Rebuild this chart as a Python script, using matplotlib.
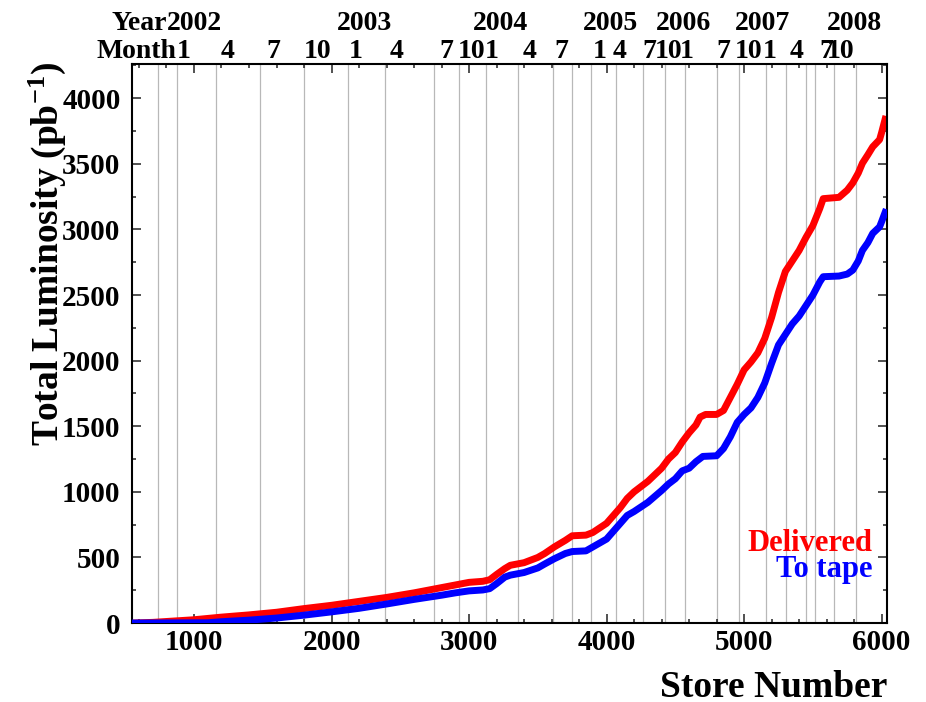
import matplotlib
matplotlib.use("Agg")
import matplotlib.pyplot as plt
from matplotlib.ticker import MultipleLocator

plt.rcParams['font.family'] = ['Liberation Serif', 'DejaVu Serif']
plt.rcParams['font.weight'] = 'bold'
plt.rcParams['mathtext.fontset'] = 'custom'
plt.rcParams['mathtext.rm'] = 'Liberation Serif:bold'
plt.rcParams['mathtext.bf'] = 'Liberation Serif:bold'
plt.rcParams['mathtext.default'] = 'bf'

# ---- data ----
red_store = [560, 700, 850, 1000, 1200, 1400, 1600, 1800, 2000, 2200, 2400, 2600, 2800, 2900,
             3000, 3100, 3150, 3200, 3260, 3300, 3400, 3500, 3550, 3620, 3700, 3750, 3850, 3900,
             4000, 4050, 4100, 4150, 4200, 4300, 4400, 4450, 4500, 4550, 4600, 4650, 4680, 4720,
             4800, 4850, 4900, 4950, 5000, 5050, 5100, 5150, 5200, 5250, 5300, 5350, 5400, 5450,
             5500, 5550, 5575, 5690, 5750, 5790, 5830, 5860, 5900, 5935, 5985, 6000, 6025]
red_lumi = [0, 5, 15, 25, 45, 62, 82, 110, 135, 165, 195, 230, 270, 290,
            310, 318, 330, 370, 415, 440, 460, 500, 530, 580, 630, 665, 670, 690,
            760, 820, 880, 950, 1000, 1080, 1180, 1250, 1300, 1380, 1450, 1510, 1570, 1590,
            1590, 1620, 1720, 1820, 1930, 1990, 2060, 2170, 2330, 2520, 2680, 2760, 2840, 2940,
            3030, 3160, 3235, 3245, 3300, 3355, 3430, 3505, 3570, 3630, 3685, 3740, 3840]

blue_store = [560, 1100, 1200, 1400, 1600, 1800, 2000, 2200, 2400, 2600, 2800, 2900, 3000, 3100,
              3150, 3200, 3260, 3300, 3400, 3500, 3550, 3620, 3700, 3750, 3850, 3900, 4000, 4050,
              4100, 4150, 4200, 4300, 4400, 4450, 4500, 4550, 4600, 4650, 4700, 4800, 4850, 4900,
              4950, 5000, 5050, 5100, 5150, 5200, 5250, 5300, 5350, 5400, 5450, 5500, 5550, 5575,
              5690, 5750, 5790, 5830, 5860, 5900, 5935, 5985, 6000, 6025]
blue_lumi = [0, 2, 10, 22, 38, 60, 85, 112, 145, 180, 212, 230, 245, 252,
             262, 300, 350, 365, 385, 420, 450, 490, 530, 545, 550, 580, 640, 700,
             760, 820, 850, 920, 1010, 1060, 1100, 1160, 1180, 1230, 1270, 1275, 1330, 1420,
             1530, 1590, 1640, 1720, 1830, 1980, 2120, 2200, 2280, 2340, 2420, 2500, 2600, 2640,
             2645, 2660, 2690, 2760, 2840, 2900, 2970, 3020, 3060, 3130]

grid_stores = [738, 874, 1160, 1479, 1799, 2123, 2391, 2747, 2925, 3122, 3354, 3609, 3747,
               3890, 4066, 4262, 4422, 4568, 4800, 4960, 5156, 5302, 5447, 5512, 5657, 5817]

month_stores = [874, 1196, 1523, 1799, 2126, 2424, 2787, 2918, 3114, 3390, 3623, 3899, 4045,
                4263, 4350, 4531, 4800, 4931, 5134, 5331, 5549, 5600]
month_labels = ['1', '4', '7', '10', '1', '4', '7', '10', '1', '4', '7', '1', '4',
                '7', '10', '1', '7', '10', '1', '4', '7', '10']

year_stores = [804, 2039, 3027, 3827, 4357, 4931, 5600]
year_labels = ['2002', '2003', '2004', '2005', '2006', '2007', '2008']

series_names = ['Delivered', 'To tape']
series_colors = ['#ff0000', '#0000ff']

# ---- figure ----
fig = plt.figure(figsize=(9.26, 7.02), dpi=100)
ax = fig.add_axes([0.1422, 0.1125, 0.816, 0.797])

for s in grid_stores:
    ax.axvline(s, color='#b8b8b8', lw=0.9, zorder=0)

ax.plot(blue_store, blue_lumi, color=series_colors[1], lw=5, solid_joinstyle='round', zorder=3)
ax.plot(red_store, red_lumi, color=series_colors[0], lw=5, solid_joinstyle='round', zorder=2)

ax.set_xlim(547, 6041)
ax.set_ylim(0, 4265)
ax.xaxis.set_major_locator(MultipleLocator(1000))
ax.xaxis.set_minor_locator(MultipleLocator(200))
ax.yaxis.set_major_locator(MultipleLocator(500))
ax.yaxis.set_minor_locator(MultipleLocator(250))
ax.tick_params(which='both', direction='in', top=True, right=True, width=1.1, color='#222222')
ax.tick_params(which='major', length=6.5)
ax.tick_params(which='minor', length=3.2)
ax.tick_params(axis='x', which='major', labelsize=21, pad=4)
ax.tick_params(axis='y', which='major', labelsize=21, pad=8)
for lab in ax.get_xticklabels() + ax.get_yticklabels():
    lab.set_fontweight('bold')
for sp in ax.spines.values():
    sp.set_linewidth(1.5)

tr = ax.get_xaxis_transform()
for s, t in zip(month_stores, month_labels):
    ax.text(s, 1.0098, t, transform=tr, ha='left', va='baseline', fontsize=20, fontweight='bold')
ax.text(month_stores[0], 1.0098, 'Month', transform=tr, ha='right', va='baseline', fontsize=20, fontweight='bold')
for s, t in zip(year_stores, year_labels):
    ax.text(s, 1.0599, t, transform=tr, ha='left', va='baseline', fontsize=20, fontweight='bold')
ax.text(year_stores[0], 1.0599, 'Year', transform=tr, ha='right', va='baseline', fontsize=20, fontweight='bold')

ax.text(0.9798, 0.1287, series_names[0], transform=ax.transAxes, ha='right', va='baseline',
        fontsize=22, fontweight='bold', color=series_colors[0])
ax.text(0.9798, 0.0822, series_names[1], transform=ax.transAxes, ha='right', va='baseline',
        fontsize=22, fontweight='bold', color=series_colors[1])

fig.text(0.0508, 0.9117, r'Total Luminosity (pb$^{\mathbf{-1}}$)', rotation=90, ha='center', va='top',
         fontsize=27, fontweight='bold')
fig.text(0.958, 0.0071, 'Store Number', ha='right', va='baseline', fontsize=27, fontweight='bold')

fig.savefig('out.png', dpi=100)
